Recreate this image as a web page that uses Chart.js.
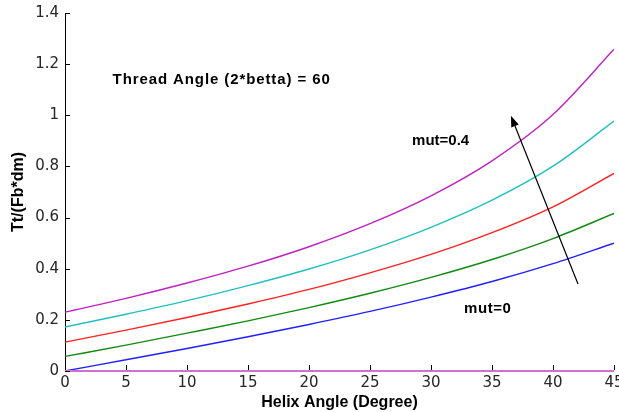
<!DOCTYPE html>
<html>
<head>
<meta charset="utf-8">
<script src="https://cdn.jsdelivr.net/npm/chart.js@4.4.1/dist/chart.umd.min.js"></script>
<style>
  html, body { margin: 0; padding: 0; background: #ffffff; }
  #wrap { width: 619px; height: 412px; }
</style>
</head>
<body>
<div id="wrap"><canvas id="c" width="619" height="412"></canvas></div>
<script>
// ---- data ----
const helixAngles = [0, 5, 10, 15, 20, 25, 30, 35, 40, 45];
const mut0   = [0.000, 0.044, 0.088, 0.134, 0.182, 0.233, 0.289, 0.350, 0.420, 0.500];
const mut01  = [0.057, 0.101, 0.148, 0.196, 0.248, 0.304, 0.366, 0.436, 0.518, 0.616];
const mut02  = [0.113, 0.160, 0.209, 0.262, 0.319, 0.384, 0.456, 0.541, 0.642, 0.773];
const mut03  = [0.172, 0.222, 0.275, 0.334, 0.399, 0.474, 0.562, 0.668, 0.801, 0.977];
const mut04  = [0.230, 0.284, 0.344, 0.410, 0.486, 0.576, 0.685, 0.822, 1.003, 1.258];
const baseline = [0, 0, 0, 0, 0, 0, 0, 0, 0, 0];
const xTickValues = [0, 5, 10, 15, 20, 25, 30, 35, 40, 45];
const yTickLabels = ['0', '0.2', '0.4', '0.6', '0.8', '1', '1.2', '1.4'];
const annotations = [
  { text: 'Thread Angle (2*betta) = 60', x: 3.9, y: 1.138, spacing: 0.9 },
  { text: 'mut=0.4', x: 28.45, y: 0.90, spacing: 0 },
  { text: 'mut=0', x: 32.7, y: 0.243, spacing: 0.6 }
];
const arrowTail = { x: 42.05, y: 0.34 };
const arrowHead = { x: 36.55, y: 0.998 };

function pts(arr) { return helixAngles.map((x, i) => ({ x: x, y: arr[i] })); }

const inwardTicks = {
  id: 'inwardTicks',
  afterDatasetsDraw(chart) {
    const ctx = chart.ctx;
    const xs = chart.scales.x, ys = chart.scales.y;
    const a = chart.chartArea;
    ctx.save();
    ctx.strokeStyle = '#000000';
    ctx.lineWidth = 1;
    ctx.beginPath();
    xTickValues.forEach(v => {
      const px = Math.round(xs.getPixelForValue(v)) + 0.5;
      ctx.moveTo(px, a.bottom - 1);
      ctx.lineTo(px, a.bottom - 6);
    });
    yTickLabels.forEach((_, i) => {
      const py = Math.round(ys.getPixelForValue(i * 0.2)) + 0.5;
      ctx.moveTo(a.left, py);
      ctx.lineTo(a.left + 5, py);
    });
    ctx.stroke();
    ctx.restore();
  }
};

const notes = {
  id: 'notes',
  afterDraw(chart) {
    const ctx = chart.ctx;
    const xs = chart.scales.x, ys = chart.scales.y;
    ctx.save();
    ctx.fillStyle = '#000000';
    ctx.font = 'bold 15px "Liberation Sans", Arial, sans-serif';
    ctx.textAlign = 'left';
    ctx.textBaseline = 'middle';
    annotations.forEach(n => {
      ctx.letterSpacing = n.spacing + 'px';
      ctx.fillText(n.text, xs.getPixelForValue(n.x), ys.getPixelForValue(n.y));
    });
    ctx.letterSpacing = '0px';
    // arrow
    const x1 = xs.getPixelForValue(arrowTail.x), y1 = ys.getPixelForValue(arrowTail.y);
    const x2 = xs.getPixelForValue(arrowHead.x), y2 = ys.getPixelForValue(arrowHead.y);
    const ang = Math.atan2(y2 - y1, x2 - x1);
    const hl = 11, hw = 4;
    const bx = x2 - hl * Math.cos(ang), by = y2 - hl * Math.sin(ang);
    ctx.strokeStyle = '#000000';
    ctx.lineWidth = 1.2;
    ctx.beginPath();
    ctx.moveTo(x1, y1);
    ctx.lineTo(bx, by);
    ctx.stroke();
    ctx.beginPath();
    ctx.moveTo(x2, y2);
    ctx.lineTo(bx + hw * Math.sin(ang), by - hw * Math.cos(ang));
    ctx.lineTo(bx - hw * Math.sin(ang), by + hw * Math.cos(ang));
    ctx.closePath();
    ctx.fill();
    ctx.restore();
  }
};

const ds = (label, data, color, w) => ({
  label: label, data: pts(data), borderColor: color, backgroundColor: color,
  borderWidth: w, pointRadius: 0, fill: false, cubicInterpolationMode: 'monotone'
});

const base = ds('baseline', baseline, '#d070d0', 2);
base.clip = 3;

new Chart(document.getElementById('c'), {
  type: 'line',
  data: {
    datasets: [
      base,
      ds('mut=0', mut0, '#2020ff', 1.4),
      ds('mut=0.1', mut01, '#108a10', 1.4),
      ds('mut=0.2', mut02, '#ff2020', 1.4),
      ds('mut=0.3', mut03, '#20c0c0', 1.4),
      ds('mut=0.4', mut04, '#c020c0', 1.4)
    ]
  },
  options: {
    responsive: false,
    animation: false,
    layout: { padding: { left: 0, right: 5, top: 13, bottom: 0 } },
    plugins: { legend: { display: false }, tooltip: { enabled: false } },
    scales: {
      x: {
        type: 'linear', min: 0, max: 45,
        afterBuildTicks(s) { s.ticks = xTickValues.map(v => ({ value: v })); },
        afterFit(s) { s.height = 41; s.paddingLeft = 0; s.paddingRight = 0; },
        grid: { display: true, drawOnChartArea: false, drawTicks: false },
        border: { display: false },
        ticks: {
          padding: 3, color: '#262626', maxRotation: 0, autoSkip: false,
          font: { family: '"DejaVu Sans", sans-serif', size: 15 },
          callback: v => String(v)
        },
        title: {
          display: true, text: 'Helix Angle (Degree)', color: '#000000',
          padding: { top: 0, bottom: 0 },
          font: { family: '"Liberation Sans", Arial, sans-serif', size: 16, weight: 'bold' }
        }
      },
      y: {
        type: 'linear', min: 0, max: 1.4,
        afterBuildTicks(s) { s.ticks = yTickLabels.map((_, i) => ({ value: i * 0.2 })); },
        afterFit(s) { s.width = 65; s.paddingTop = 0; s.paddingBottom = 0; },
        grid: { display: true, drawOnChartArea: false, drawTicks: false },
        border: { display: true, color: '#000000', width: 1 },
        ticks: {
          padding: 6, color: '#262626', autoSkip: false,
          font: { family: '"DejaVu Sans", sans-serif', size: 15 },
          callback: (v, i) => yTickLabels[i]
        },
        title: {
          display: true, text: 'Tt/(Fb*dm)', color: '#000000',
          padding: { top: 9, bottom: 0 },
          font: { family: '"Liberation Sans", Arial, sans-serif', size: 16, weight: 'bold' }
        }
      }
    }
  },
  plugins: [inwardTicks, notes]
});
</script>
</body>
</html>
